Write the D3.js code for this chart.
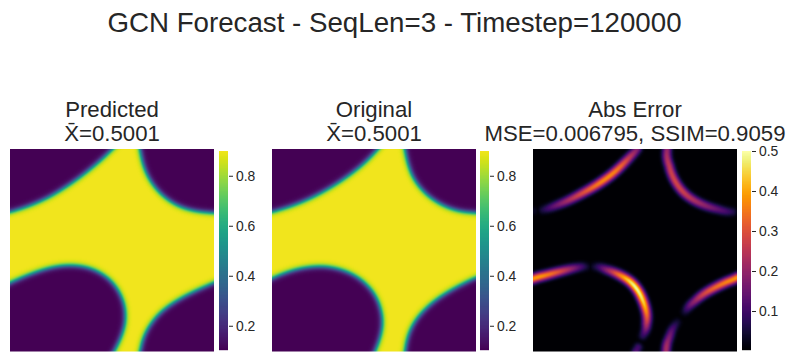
<!DOCTYPE html>
<html><head><meta charset="utf-8">
<script src="https://cdn.jsdelivr.net/npm/d3@7"></script>
<style>html,body{margin:0;background:#fff}svg{display:block}text{font-family:"Liberation Sans",Arial,sans-serif;fill:#262626}</style>
</head><body>
<script>
const suptitle = "GCN Forecast - SeqLen=3 - Timestep=120000";
const titleLines = [["Predicted","X\u0304=0.5001"],["Original","X\u0304=0.5001"],["Abs Error","MSE=0.006795, SSIM=0.9059"]];
const fieldTicks = [0.2,0.4,0.6,0.8];
const errorTicks = [0.1,0.2,0.3,0.4,0.5];
const fieldDomain = [0.103,0.899];
const errorDomain = [0.0025,0.5];
const fieldLow = 0.103, fieldHigh = 0.899;

// interface contours (grid units, 204 x 203)
const predTL = [[-10,65],[0,63],[20,58],[40,48],[60,36],[80,21],[93,9],[103,0],[110,-8]];
const predTR = [[129,-8],[130,0],[132,14],[138,31],[150,46],[167,58],[183,63],[204,64],[214,64]];
const predBL = [[-10,139],[0,134],[20,125],[40,118],[60,115],[80,118],[97,126],[110,141],[116,158],[116,174],[112,189],[104,203],[99,211]];
const predBR = [[214,130],[204,134],[183,143],[167,151],[150,163],[138,176],[132,193],[130,203],[129,211]];
const origTL = [[-10,65],[0,63],[20,58],[43,48],[63,36],[83,23],[96,11],[106,0],[113,-8]];
const origTR = [[132,-8],[133,0],[135,14],[141,31],[151,44],[170,58],[186,63],[204,64],[214,64]];
const origBL = [[-10,135],[0,130],[13,123],[33,118],[50,117],[70,119],[90,129],[103,144],[111,161],[111,178],[108,191],[103,203],[99,211]];
const origBR = [[214,125],[204,129],[183,138],[163,151],[148,164],[138,179],[135,191],[133,203],[132,211]];
const corners = [[-10,-8],[214,-8],[-10,211],[214,211]];

// error ridges: x, y, peak error
const errTL = [[10,61,.06],[20,58,.14],[33,53,.22],[47,46,.28],[60,38,.34],[73,31,.38],[83,22,.37],[92,13,.30],[100,5,.22],[104,0,.18]];
const errDot = [[0,62,.03],[1,62,.03]];
const errTR = [[134,0,.2],[134,13,.25],[139,28,.29],[147,42,.28],[159,52,.24],[175,58,.18],[189,62,.13],[199,63,.07]];
const errBL1 = [[0,130,.38],[10,127,.39],[23,124,.33],[37,120,.22],[47,118,.12],[53,118,.05]];
const errBL2 = [[62,118,.05],[70,119,.14],[82,124,.30],[93,129,.44],[102,136,.5],[107,145,.5],[112,156,.42],[115,168,.35],[114,178,.2],[110,187,.08]];
const errSpot = [[103,203,.12],[105,199,.1]];
const errBot = [[144,174,.05],[137,184,.15],[134,194,.22],[133,203,.22]];
const errBR = [[152,163,.05],[159,154,.2],[169,146,.28],[182,138,.34],[195,133,.37],[204,129,.38]];
const errRidges = [errTL,errDot,errTR,errBL1,errBL2,errSpot,errBot,errBR];

const frontWidth = 2.9, ridgeSigma = 3.3, smoothSpan = 10, viridisTop = 0.98;
const W = 795, H = 362, gridW = 204, gridH = 203;
const panels = [{x:10,cb:219,ticks:fieldTicks},{x:272,cb:480,ticks:fieldTicks},{x:533,cb:742,ticks:errorTicks}];
const panelY = 149, panelH = 202.5, panelW = 204, cbY = 151, cbH = 199, cbW = 9;

function smooth(pts){
  if(pts.length<3) return pts;
  const out=[], n=pts.length;
  for(let i=0;i<n-1;i++){
    const p0=pts[Math.max(i-1,0)],p1=pts[i],p2=pts[i+1],p3=pts[Math.min(i+2,n-1)];
    for(let k=0;k<8;k++){
      const t=k/8,t2=t*t,t3=t2*t;
      out.push(p1.map((_,d)=>.5*(2*p1[d]+(p2[d]-p0[d])*t+(2*p0[d]-5*p1[d]+4*p2[d]-p3[d])*t2+(3*p1[d]-p0[d]-3*p2[d]+p3[d])*t3)));
    }
  }
  out.push(pts[n-1]);
  // moving average to take out the kinks of the hand-read points
  return out.map((p,i)=>{
    const s=Math.min(smoothSpan,i,out.length-1-i);
    const win=out.slice(i-s,i+s+1);
    return p.map((_,d)=>d3.mean(win,q=>q[d]));
  });
}
function segDist(px,py,a,b){
  const dx=b[0]-a[0],dy=b[1]-a[1],l=dx*dx+dy*dy;
  const t=l?Math.max(0,Math.min(1,((px-a[0])*dx+(py-a[1])*dy)/l)):0;
  const qx=a[0]+t*dx-px,qy=a[1]+t*dy-py;
  return [Math.sqrt(qx*qx+qy*qy),t];
}
function fieldFrom(curves){
  const regions=curves.map((c,i)=>{const s=smooth(c);return {s,poly:s.concat([corners[i]])};});
  return (x,y)=>{
    let sd=1e9;
    for(const r of regions){
      let d=1e9;
      for(let i=0;i<r.s.length-1;i++){d=Math.min(d,segDist(x,y,r.s[i],r.s[i+1])[0]);}
      sd=Math.min(sd,d3.polygonContains(r.poly,[x,y])?-d:d);
    }
    const mid=(fieldLow+fieldHigh)/2,amp=(fieldHigh-fieldLow)/2;
    return mid+amp*Math.tanh(sd/frontWidth);
  };
}
function errorFrom(ridges){
  const rs=ridges.map(smooth);
  return (x,y)=>{
    let v=errorDomain[0];
    for(const r of rs){
      for(let i=0;i<r.length-1;i++){
        const [d,t]=segDist(x,y,r[i],r[i+1]);
        if(d>14) continue;
        const peak=r[i][2]+(r[i+1][2]-r[i][2])*t;
        v=Math.max(v,peak*Math.exp(-d*d/(2*ridgeSigma*ridgeSigma)));
      }
    }
    return v;
  };
}
const viridis = d3.scaleSequential(fieldDomain,t=>d3.interpolateViridis(t*viridisTop));
const inferno = d3.scaleSequential(errorDomain,d3.interpolateInferno);
const fns = [[fieldFrom([predTL,predTR,predBL,predBR]),viridis],[fieldFrom([origTL,origTR,origBL,origBR]),viridis],[errorFrom(errRidges),inferno]];

const svg = d3.select("body").append("svg").attr("width",W).attr("height",H).attr("viewBox",`0 0 ${W} ${H}`);
svg.append("rect").attr("width",W).attr("height",H).attr("fill","#fff");
svg.append("text").attr("x",394.5).attr("y",32).attr("text-anchor","middle").style("font-size","27.7px").text(suptitle);

panels.forEach((p,i)=>{
  const [fn,color]=fns[i];
  const sx=d3.scaleLinear([0,gridW],[0,gridW]), sy=d3.scaleLinear([0,gridH],[0,gridH]);
  const cv=document.createElement("canvas");cv.width=gridW;cv.height=gridH;
  const ctx=cv.getContext("2d");
  for(let y=0;y<gridH;y++)for(let x=0;x<gridW;x++){
    ctx.fillStyle=color(fn(sx.invert(x+.5),sy.invert(y+.5)));
    ctx.fillRect(x,y,1,1);
  }
  svg.append("image").attr("x",p.x).attr("y",panelY).attr("width",panelW).attr("height",panelH)
    .attr("preserveAspectRatio","none").attr("href",cv.toDataURL());
  const cx=p.x+panelW/2;
  svg.append("text").attr("x",cx).attr("y",117).attr("text-anchor","middle").style("font-size","22.2px").text(titleLines[i][0]);
  svg.append("text").attr("x",cx).attr("y",141).attr("text-anchor","middle").style("font-size","22.2px").text(titleLines[i][1]);
  const dom=i<2?fieldDomain:errorDomain;
  const sc=d3.scaleLinear(dom,[cbY+cbH,cbY]);
  const rows=d3.range(0,cbH);
  svg.append("g").selectAll("rect").data(rows).join("rect")
    .attr("x",p.cb).attr("y",d=>cbY+cbH-d-1).attr("width",cbW).attr("height",1.2)
    .attr("fill",d=>color(sc.invert(cbY+cbH-d-.5)));
  const ax=svg.append("g").attr("transform",`translate(${p.cb+cbW+1},0)`)
    .call(d3.axisRight(sc).tickValues(p.ticks).tickFormat(d3.format(".1f")).tickSize(4).tickPadding(3));
  ax.select(".domain").remove();
  ax.selectAll("line").attr("stroke","#262626");
  ax.selectAll("text").attr("fill","#262626").style("font-size","13.9px").style("font-family",'"Liberation Sans",Arial,sans-serif');
});
</script>
</body></html>
